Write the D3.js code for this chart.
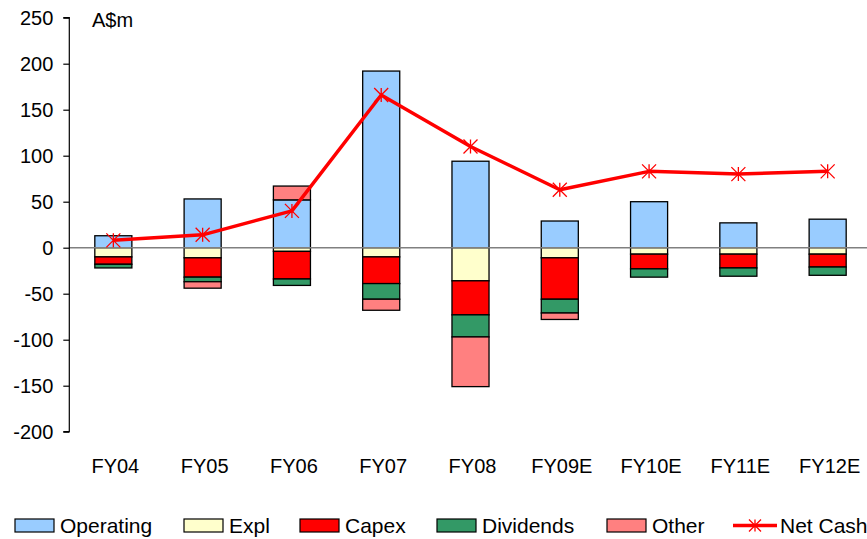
<!DOCTYPE html>
<html>
<head>
<meta charset="utf-8">
<script src="https://cdn.jsdelivr.net/npm/d3@7"></script>
<style>
  body { margin: 0; background: #fff; }
  text { font-family: "Liberation Sans", Arial, sans-serif; fill: #000; }
</style>
</head>
<body>
<div id="chart"></div>
<script>
// DATA
// ------------------------------------------------------------------
var years = ["FY04", "FY05", "FY06", "FY07", "FY08", "FY09E", "FY10E", "FY11E", "FY12E"];
var operating = [13, 53, 52, 192, 94, 29, 50, 27, 31];
var expl = [-10, -11, -4, -10, -36, -11, -7, -7, -7];
var capex = [-8, -21, -30, -29, -37, -45, -16, -15, -14];
var dividends = [-4, -5, -7, -17, -24, -15, -9, -9, -9];
var other = [0, -7, 15, -12, -54, -7, 0, 0, 0];
var netCash = [8, 14, 40, 166, 110, 63, 83, 80, 83];
var yTicks = [250, 200, 150, 100, 50, 0, -50, -100, -150, -200];

var seriesNames = ["Operating", "Expl", "Capex", "Dividends", "Other"];
var seriesValues = [operating, expl, capex, dividends, other];
var seriesColors = ["#99ccff", "#ffffcc", "#ff0000", "#339966", "#ff8080"];

// CANVAS
// ------------------------------------------------------------------
var width = 867,
    height = 539;

var svg = d3.select("#chart")
    .append("svg")
    .attr("width", width)
    .attr("height", height);

// SCALES
// ------------------------------------------------------------------
var xScale = d3.scaleBand()
    .domain(years)
    .range([68.7, 872.3])
    .paddingInner(0.585)
    .paddingOuter(0.2925);

var yScale = d3.scaleLinear()
    .domain([-200, 250])
    .range([431.7, 17.7]);

// BARS (stacked: positives up from 0, negatives down from 0)
// ------------------------------------------------------------------
var stacked = [];
years.forEach(function(yr, i) {
  var pos = 0, neg = 0;
  seriesValues.forEach(function(vals, s) {
    var v = vals[i];
    if (v === 0) return;
    var y0, y1;
    if (v > 0) { y0 = pos; y1 = pos + v; pos = y1; }
    else { y0 = neg; y1 = neg + v; neg = y1; }
    stacked.push({ year: yr, s: s, y0: y0, y1: y1 });
  });
});

svg.append("g")
    .selectAll("rect")
    .data(stacked)
    .enter()
    .append("rect")
    .attr("x", function(d) { return xScale(d.year); })
    .attr("width", xScale.bandwidth())
    .attr("y", function(d) { return yScale(Math.max(d.y0, d.y1)); })
    .attr("height", function(d) { return Math.abs(yScale(d.y0) - yScale(d.y1)); })
    .attr("fill", function(d) { return seriesColors[d.s]; })
    .attr("stroke", "#000")
    .attr("stroke-width", 1.3);

// zero line
svg.append("line")
    .attr("x1", 69)
    .attr("x2", width)
    .attr("y1", yScale(0))
    .attr("y2", yScale(0))
    .attr("stroke", "#808080")
    .attr("stroke-width", 1.5);

// AXES
// ------------------------------------------------------------------
var yAxis = d3.axisLeft(yScale)
    .tickValues(yTicks)
    .tickFormat(function(d) { return String(d); })
    .tickSize(6)
    .tickPadding(10);

var gy = svg.append("g")
    .attr("transform", "translate(69.3,0)")
    .call(yAxis);
gy.select(".domain")
    .attr("stroke", "#000")
    .attr("stroke-width", 1.2)
    .attr("d", "M-6," + yScale(250) + "H0V" + yScale(-200) + "H-6");
gy.selectAll(".tick line").attr("stroke", "#000").attr("stroke-width", 1.2);
gy.selectAll(".tick text")
    .style("font-size", "20px")
    .style("font-family", "'Liberation Sans', Arial, sans-serif");

var xAxis = d3.axisBottom(xScale).tickSize(0).tickPadding(0);
var gx = svg.append("g")
    .attr("transform", "translate(2,473)")
    .call(xAxis);
gx.select(".domain").remove();
gx.selectAll(".tick text")
    .style("font-size", "20px")
    .style("font-family", "'Liberation Sans', Arial, sans-serif")
    .attr("y", 0)
    .attr("dy", 0);

svg.append("text")
    .attr("x", 92)
    .attr("y", 27)
    .style("font-size", "20px")
    .text("A$m");

// NET CASH LINE
// ------------------------------------------------------------------
var line = d3.line()
    .x(function(d, i) { return xScale(years[i]) + xScale.bandwidth() / 2; })
    .y(function(d) { return yScale(d); });

svg.append("path")
    .datum(netCash)
    .attr("d", line)
    .attr("fill", "none")
    .attr("stroke", "#ff0000")
    .attr("stroke-width", 3.5)
    .attr("stroke-linejoin", "round");

function starPath(cx, cy, r) {
  return "M" + (cx - r) + "," + (cy - r) + "L" + (cx + r) + "," + (cy + r) +
         "M" + (cx - r) + "," + (cy + r) + "L" + (cx + r) + "," + (cy - r) +
         "M" + cx + "," + (cy - r) + "L" + cx + "," + (cy + r);
}

svg.append("g")
    .selectAll("path")
    .data(netCash)
    .enter()
    .append("path")
    .attr("d", function(d, i) {
      return starPath(xScale(years[i]) + xScale.bandwidth() / 2, yScale(d), 7);
    })
    .attr("stroke", "#ff0000")
    .attr("stroke-width", 1.3)
    .attr("fill", "none");

// LEGEND
// ------------------------------------------------------------------
var legendX = [15, 184, 300, 437, 607];
var legend = svg.append("g");
seriesNames.forEach(function(name, s) {
  legend.append("rect")
      .attr("x", legendX[s])
      .attr("y", 519)
      .attr("width", 39)
      .attr("height", 13)
      .attr("fill", seriesColors[s])
      .attr("stroke", "#000")
      .attr("stroke-width", 1.2);
  legend.append("text")
      .attr("x", legendX[s] + 45)
      .attr("y", 533)
      .style("font-size", "21px")
      .text(name);
});
legend.append("line")
    .attr("x1", 733).attr("x2", 777)
    .attr("y1", 525.5).attr("y2", 525.5)
    .attr("stroke", "#ff0000")
    .attr("stroke-width", 3.5);
legend.append("path")
    .attr("d", starPath(755, 525.5, 6))
    .attr("stroke", "#ff0000")
    .attr("stroke-width", 1.3)
    .attr("fill", "none");
legend.append("text")
    .attr("x", 780)
    .attr("y", 533)
    .style("font-size", "21px")
    .text("Net Cash");
</script>
</body>
</html>
